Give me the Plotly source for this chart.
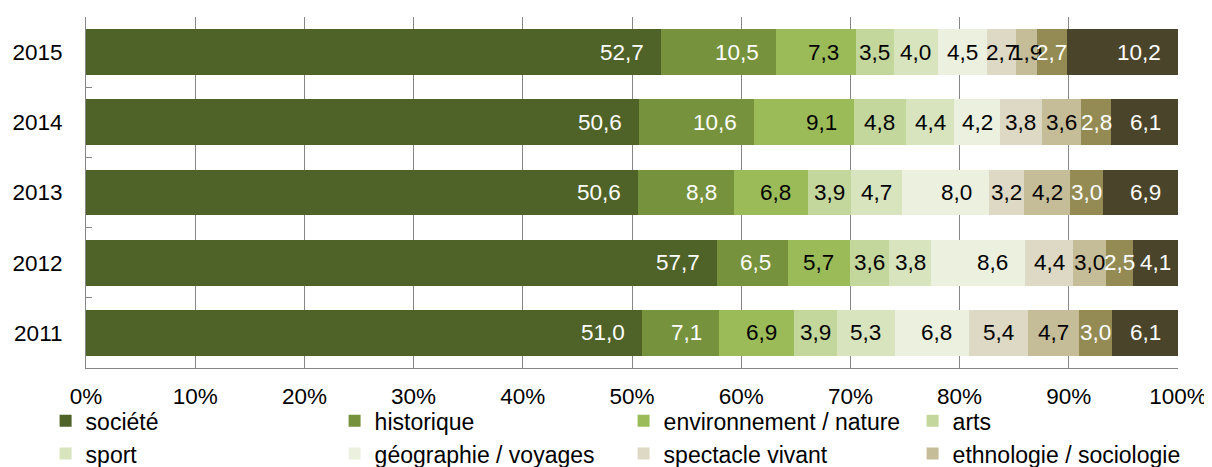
import plotly.graph_objects as go

# ---- data ----
years = ["2015", "2014", "2013", "2012", "2011"]
series_names = [
    "société", "historique", "environnement / nature", "arts", "sport",
    "géographie / voyages", "spectacle vivant", "ethnologie / sociologie",
    "sciences / techniques", "autres",
]
societe = [52.7, 50.6, 50.6, 57.7, 51.0]
historique = [10.5, 10.6, 8.8, 6.5, 7.1]
environnement = [7.3, 9.1, 6.8, 5.7, 6.9]
arts = [3.5, 4.8, 3.9, 3.6, 3.9]
sport = [4.0, 4.4, 4.7, 3.8, 5.3]
geographie = [4.5, 4.2, 8.0, 8.6, 6.8]
spectacle = [2.7, 3.8, 3.2, 4.4, 5.4]
ethnologie = [1.9, 3.6, 4.2, 3.0, 4.7]
sciences = [2.7, 2.8, 3.0, 2.5, 3.0]
autres = [10.2, 6.1, 6.9, 4.1, 6.1]
series_values = [societe, historique, environnement, arts, sport,
                 geographie, spectacle, ethnologie, sciences, autres]
x_tick_values = list(range(0, 101, 10))
x_tick_labels = [f"{v}%" for v in x_tick_values]

# ---- style ----
colors = ["#4F6228", "#76923C", "#9BBB59", "#C3D69B", "#D7E4BD",
          "#EBF1DE", "#DDD9C4", "#C4BD97", "#948A54", "#4A452A"]
label_colors = ["white", "white", "black", "black", "black",
                "black", "black", "black", "white", "white"]
in_legend = [True] * 8 + [False, False]
FONT = "Liberation Sans, Arial, sans-serif"
GRAY = "#868686"
FS = 22.5

fig = go.Figure()
for name, vals, col, lg in zip(series_names, series_values, colors, in_legend):
    fig.add_trace(go.Bar(
        y=years, x=vals, name=name, orientation="h",
        marker=dict(color=col, line=dict(width=0)),
        showlegend=lg,
    ))

# data labels (French decimal comma); y given as category index
annotations = []
for j, yr in enumerate(years):
    total = sum(s[j] for s in series_values)
    cum = 0.0
    for i, vals in enumerate(series_values):
        v = vals[j]
        start = cum / total * 100
        end = min((cum + v) / total * 100, 99.99)
        cum += v
        txt = f"{v:.1f}".replace(".", ",")
        if end - start >= 6.0:
            ax = dict(x=end, xanchor="right", xshift=-15)
        else:
            ax = dict(x=(start + end) / 2, xanchor="center", xshift=0)
        annotations.append(dict(
            y=years.index(yr), xref="x", yref="y", text=txt, showarrow=False,
            font=dict(family=FONT, size=FS, color=label_colors[i]),
            yanchor="middle", **ax))

fig.update_layout(
    barmode="stack", barnorm="percent", bargap=0.345,
    width=1204, height=459,
    margin=dict(l=78, r=34, t=9, b=99, autoexpand=False),
    paper_bgcolor="white", plot_bgcolor="white",
    font=dict(family=FONT, size=FS, color="black"),
    annotations=annotations,
    legend=dict(
        orientation="h", x=-0.037, xanchor="left", y=-0.089, yanchor="top",
        entrywidth=244, entrywidthmode="pixels", traceorder="normal",
        font=dict(family=FONT, size=23, color="black"),
        bgcolor="rgba(0,0,0,0)", tracegroupgap=0,
    ),
)
fig.update_xaxes(
    range=[0, 100], tickvals=x_tick_values, ticktext=x_tick_labels,
    showgrid=True, gridcolor=GRAY, gridwidth=1, zeroline=False,
    showline=True, linecolor=GRAY, linewidth=1, ticks="",
    tickfont=dict(family=FONT, size=FS, color="black"),
    ticklabelstandoff=8,
)
fig.update_yaxes(
    type="category", categoryorder="array", categoryarray=years,
    range=[len(years) - 0.5, -0.5], autorange=False,
    showgrid=False, zeroline=False,
    showline=True, linecolor=GRAY, linewidth=1,
    ticks="inside", tickson="boundaries", ticklen=6, tickcolor=GRAY,
    tickfont=dict(family=FONT, size=FS, color="black"),
    ticklabelstandoff=18,
)

fig.write_html("out.html")
